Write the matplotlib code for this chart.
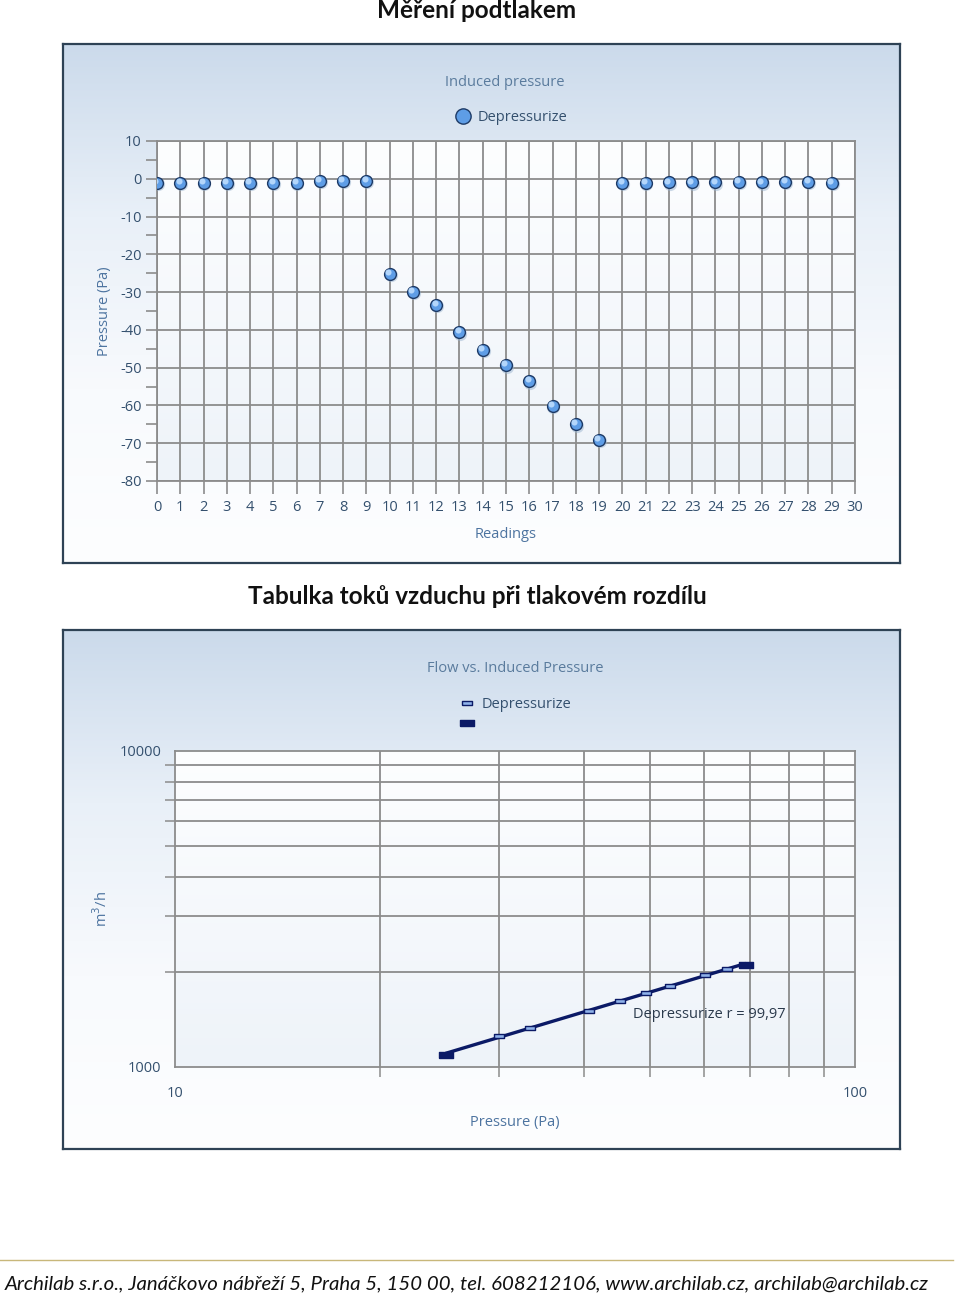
import numpy as np
import matplotlib
matplotlib.use("Agg")
import matplotlib.pyplot as plt
from matplotlib.lines import Line2D
from matplotlib.transforms import offset_copy

plt.rcParams["axes.unicode_minus"] = False

# data
readings = np.arange(30)
pressure = [-1.0, -1.0, -1.0, -1.0, -1.0, -1.0, -1.0, -0.5, -0.5, -0.5,
            -25.1, -29.9, -33.3, -40.6, -45.2, -49.3, -53.5, -60.1, -64.9, -69.1,
            -1.0, -1.0, -0.9, -0.9, -0.9, -0.8, -0.9, -0.8, -0.8, -1.0]

flow_pa = [25.0, 30.0, 33.3, 40.6, 45.2, 49.3, 53.5, 60.1, 64.9, 69.1]
flow_m3h = [1094, 1254, 1332, 1504, 1618, 1719, 1804, 1960, 2038, 2110]
r_text = "Depressurize r = 99,97"

W, H = 960, 1294
fig = plt.figure(figsize=(W / 100, H / 100), dpi=100)
fig.patch.set_facecolor("white")

UI = ["Open Sans", "DejaVu Sans"]
DOC = ["Lato", "DejaVu Sans"]
tick_col = "#34506e"
lab_col = "#4d74a0"
grid_col = "#8c8c8c"


def px(x0, y0, x1, y1):
    # pixel box -> figure rect
    return [x0 / W, 1 - y1 / H, (x1 - x0) / W, (y1 - y0) / H]


def panel(x0, y0, x1, y1):
    bg = fig.add_axes(px(x0, y0, x1, y1), zorder=-5)
    grad = np.linspace(0, 1, 256).reshape(-1, 1)
    cmap = matplotlib.colors.LinearSegmentedColormap.from_list(
        "bg", ["#cbdaeb", "#e9f0f8", "#f8fafd", "#fdfeff"])
    bg.imshow(grad, aspect="auto", cmap=cmap, extent=(0, 1, 0, 1))
    bg.set_xlim(0, 1)
    bg.set_ylim(0, 1)
    bg.set_xticks([])
    bg.set_yticks([])
    for s in bg.spines.values():
        s.set_color("#2e4255")
        s.set_linewidth(1.6)


def plot_bg(ax):
    grad = np.linspace(0, 1, 256).reshape(-1, 1)
    cmap = matplotlib.colors.LinearSegmentedColormap.from_list(
        "pa", ["#fdfeff", "#eef3f9"])
    ax.imshow(grad, aspect="auto", cmap=cmap, extent=(0, 1, 0, 1),
              transform=ax.transAxes, zorder=0)
    ax.set_facecolor("none")
    for s in ax.spines.values():
        s.set_color(grid_col)
        s.set_linewidth(1.3)


# page titles
fig.text(477 / W, 1 - 11 / H, "Měření podtlakem", ha="center", va="center",
         fontsize=17.5, fontweight="bold", family=DOC, color="#111111")
fig.text(477 / W, 1 - 596 / H, "Tabulka toků vzduchu při tlakovém rozdílu",
         ha="center", va="center", fontsize=17.5, fontweight="bold",
         family=DOC, color="#111111")

# ---------------- chart 1
panel(63, 44, 900, 563)
ax1 = fig.add_axes(px(157, 141, 855, 481))
plot_bg(ax1)
ax1.set_xlim(0, 30)
ax1.set_ylim(-80, 10)
ax1.set_xticks(np.arange(0, 31))
ax1.set_yticks(np.arange(-80, 11, 10))
ax1.set_yticks(np.arange(-75, 10, 10), minor=True)
ax1.grid(True, color=grid_col, linewidth=1.3, zorder=1)
ax1.tick_params(axis="x", length=9, color=grid_col, width=1.2,
                labelsize=10.5, labelcolor=tick_col, pad=5)
ax1.tick_params(axis="y", length=8, color=grid_col, width=1.2,
                labelsize=10.5, labelcolor=tick_col, pad=3)
ax1.tick_params(axis="y", which="minor", length=8, color=grid_col, width=1.2)
for t in ax1.get_xticklabels() + ax1.get_yticklabels():
    t.set_family(UI)

# sphere-like markers: shadow, body, highlight
sh = offset_copy(ax1.transData, fig=fig, x=0.6, y=-1.2, units="points")
hl = offset_copy(ax1.transData, fig=fig, x=-1.2, y=1.2, units="points")
ax1.plot(readings, pressure, "o", ms=9.5, color="#9ab4cf", alpha=0.5,
         mec="none", transform=sh, zorder=3)
ax1.plot(readings, pressure, "o", ms=8.5, mfc="#5e9de6", mec="#1d3a66",
         mew=1.0, zorder=4)
ax1.plot(readings, pressure, "o", ms=4.4, mfc="#b3d6fb", mec="none",
         transform=hl, zorder=5)

ax1.set_ylabel("Pressure (Pa)", fontsize=10.5, color=lab_col, family=UI,
               labelpad=6)
ax1.set_xlabel("Readings", fontsize=10.5, color=lab_col, family=UI,
               labelpad=8)
fig.text(505 / W, 1 - 83 / H, "Induced pressure", ha="center", va="center",
         fontsize=10.5, color="#5a7b9d", family=UI)
h_body = Line2D([], [], ls="", marker="o", ms=11, mfc="#5e9de6", mec="#1d3a66")
leg1 = ax1.legend([h_body], ["Depressurize"],
                  loc="center", bbox_to_anchor=(0.508, 1.07), frameon=False,
                  handlelength=1.0, handletextpad=0.5,
                  prop={"family": UI, "size": 10.5})
for t in leg1.get_texts():
    t.set_color(tick_col)

# ---------------- chart 2
panel(63, 630, 900, 1149)
ax2 = fig.add_axes(px(175, 751, 855, 1067))
plot_bg(ax2)
ax2.set_xscale("log")
ax2.set_yscale("log")
ax2.set_xlim(10, 100)
ax2.set_ylim(1000, 10000)
ax2.set_xticks([10, 100])
ax2.set_xticklabels(["10", "100"])
ax2.set_yticks([1000, 10000])
ax2.set_yticklabels(["1000", "10000"])
ax2.set_xticks(np.arange(20, 100, 10), minor=True)
ax2.set_yticks(np.arange(2000, 10000, 1000), minor=True)
ax2.xaxis.set_minor_formatter(matplotlib.ticker.NullFormatter())
ax2.yaxis.set_minor_formatter(matplotlib.ticker.NullFormatter())
ax2.grid(True, which="minor", color=grid_col, linewidth=1.3, zorder=1)
ax2.tick_params(which="both", length=7, color=grid_col, width=1.1,
                labelsize=10.5, labelcolor=tick_col)
ax2.tick_params(axis="x", which="major", length=0, pad=14)
ax2.tick_params(axis="y", which="major", length=0, pad=10)
for t in ax2.get_xticklabels() + ax2.get_yticklabels():
    t.set_family(UI)

# power-law fit line through the points
lx = np.log10(flow_pa)
ly = np.log10(flow_m3h)
k, b = np.polyfit(lx, ly, 1)
fx = np.array([min(flow_pa), max(flow_pa)])
ax2.plot(fx, 10 ** (k * np.log10(fx) + b), color="#0b1a66", lw=2.4,
         zorder=4, solid_capstyle="butt")

rect = [(-1, -0.42), (1, -0.42), (1, 0.42), (-1, 0.42), (-1, -0.42)]
ax2.plot(flow_pa[1:-1], flow_m3h[1:-1], ls="", marker=rect, ms=7.5,
         mfc="#8fb2ea", mec="#0b1a66", mew=1.0, zorder=5)
ax2.plot([flow_pa[0], flow_pa[-1]], [flow_m3h[0], flow_m3h[-1]], ls="",
         marker=rect, ms=10, mfc="#0b1a66", mec="#0b1a66", zorder=6)
ax2.text((633 - 175) / 680, (1067 - 1014) / 316, r_text,
         transform=ax2.transAxes, ha="left", va="center", fontsize=10.5,
         color="#2b3a4c", family=UI, zorder=7)

ax2.set_ylabel("m$^3$/h", fontsize=10.5, color=lab_col, family=UI,
               labelpad=6)
ax2.set_xlabel("Pressure (Pa)", fontsize=10.5, color=lab_col, family=UI,
               labelpad=10)
fig.text(515 / W, 1 - 669 / H, "Flow vs. Induced Pressure", ha="center",
         va="center", fontsize=10.5, color="#5a7b9d", family=UI)
h_l = Line2D([], [], ls="", marker=rect, ms=7.5, mfc="#8fb2ea", mec="#0b1a66")
h_d = Line2D([], [], ls="", marker=rect, ms=10, mfc="#0b1a66", mec="#0b1a66")
leg2 = ax2.legend([h_l, h_d], ["Depressurize", " "], loc="upper left",
                  bbox_to_anchor=((452 - 175) / 680, (1067 - 690) / 316),
                  frameon=False, handlelength=1.0, handletextpad=0.5,
                  labelspacing=0.35, borderpad=0,
                  prop={"family": UI, "size": 10.5})
for t in leg2.get_texts():
    t.set_color(tick_col)

# footer
fig.add_artist(Line2D([0, 953 / W], [1 - 1260 / H, 1 - 1260 / H],
                      color="#c8b77a", lw=1.0))
fig.text(5 / W, 1 - 1284 / H,
         "Archilab s.r.o., Janáčkovo nábřeží 5, Praha 5, 150 00, tel. 608212106, "
         "www.archilab.cz, archilab@archilab.cz",
         ha="left", va="center", fontsize=14.7, style="italic", family=DOC,
         color="#111111")

fig.savefig("out.png", dpi=100)
